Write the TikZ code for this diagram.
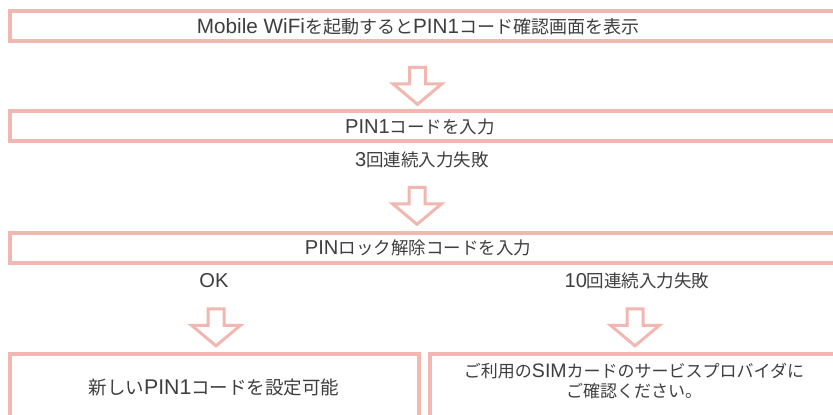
\documentclass[tikz,border=0pt]{standalone}
\usepackage{fontspec}
\setmainfont{Noto Sans CJK JP}
\newfontfamily\latfont{Liberation Sans}[Scale=1.15]
\newcommand\lat[1]{{\latfont #1}}
\usetikzlibrary{shapes.arrows}
\definecolor{flowpink}{RGB}{241,183,177}
\definecolor{flowtext}{RGB}{62,62,62}
\tikzset{flow box/.style={draw=flowpink,line width=4pt,inner sep=0pt,outer sep=0pt,anchor=north west}}
\tikzset{flow arrow/.style={single arrow,draw=flowpink,line width=3pt,fill=white,rotate=-90,minimum height=37pt,minimum width=46pt,inner xsep=0pt,inner ysep=6.5pt,single arrow head extend=16.5pt,single arrow tip angle=100}}
\tikzset{flow text/.style={text=flowtext,font=\fontsize{#1}{19.5}\selectfont,inner sep=0pt,align=center},flow text/.default=17.5}

\begin{document}
\begin{tikzpicture}[x=1pt,y=-1pt]
    \path[use as bounding box,clip] (0,0) rectangle (833,415);

    % boxes
    \node[flow box,minimum width=850pt,minimum height=30pt] (box1) at (10,11) {};
    \node[flow box,minimum width=850pt,minimum height=30pt] (box2) at (10,111) {};
    \node[flow box,minimum width=850pt,minimum height=30pt] (box3) at (10,233) {};
    \node[flow box,minimum width=409pt,minimum height=80pt] (box4) at (10,354) {};
    \node[flow box,minimum width=430pt,minimum height=80pt] (box5) at (430,354) {};

    % texts
    \node[flow text=18] (t1) at (418,27) {\lat{Mobile WiFi}を起動すると\lat{PIN1}コード確認画面を表示};
    \node[flow text] (t2) at (420,127) {\lat{PIN1}コードを入力};
    \node[flow text] (t3) at (418,248) {\lat{PIN}ロック解除コードを入力};
    \node[flow text=18.5] (t4) at (214,388) {新しい\lat{PIN1}コードを設定可能};
    \node[flow text=17] (t5) at (634,381) {ご利用の\lat{SIM}カードのサービスプロバイダに\\ご確認ください。};

    % conditions
    \node[flow text] (c1) at (422,160) {\lat{3}回連続入力失敗};
    \node[flow text] (c2) at (214,281) {\lat{OK}};
    \node[flow text] (c3) at (637,281) {\lat{10}回連続入力失敗};

    % arrows
    \node[flow arrow] (a1) at (417.5,82.5) {};
    \node[flow arrow] (a2) at (417,202.5) {};
    \node[flow arrow] (a3) at (216,324) {};
    \node[flow arrow] (a4) at (635,324) {};
\end{tikzpicture}
\end{document}
